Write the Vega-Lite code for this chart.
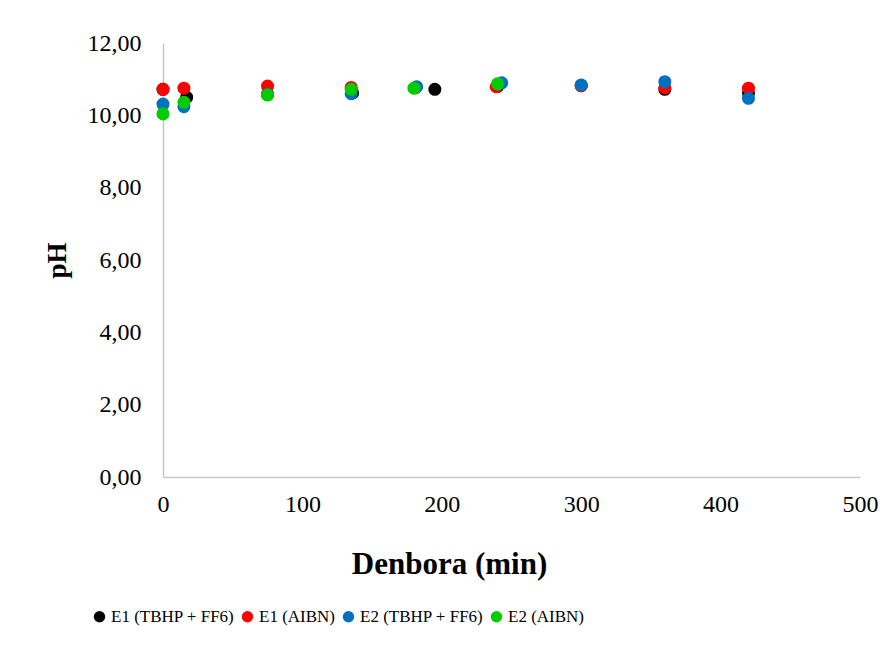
{
  "$schema": "https://vega.github.io/schema/vega-lite/v6.json",
  "autosize": "none",
  "width": 697,
  "height": 434,
  "padding": {"left": 163, "top": 43, "right": 36, "bottom": 172},
  "background": "white",
  "config": {
    "view": {"stroke": null},
    "font": "Liberation Serif"
  },
  "data": {
    "values": [
      {"t": 0, "pH": 10.72, "serie": "E1 (TBHP + FF6)"},
      {"t": 17, "pH": 10.5, "serie": "E1 (TBHP + FF6)"},
      {"t": 75, "pH": 10.58, "serie": "E1 (TBHP + FF6)"},
      {"t": 136, "pH": 10.62, "serie": "E1 (TBHP + FF6)"},
      {"t": 195, "pH": 10.72, "serie": "E1 (TBHP + FF6)"},
      {"t": 240, "pH": 10.8, "serie": "E1 (TBHP + FF6)"},
      {"t": 300, "pH": 10.82, "serie": "E1 (TBHP + FF6)"},
      {"t": 360, "pH": 10.72, "serie": "E1 (TBHP + FF6)"},
      {"t": 420, "pH": 10.62, "serie": "E1 (TBHP + FF6)"},
      {"t": 0, "pH": 10.72, "serie": "E1 (AIBN)"},
      {"t": 15, "pH": 10.75, "serie": "E1 (AIBN)"},
      {"t": 75, "pH": 10.81, "serie": "E1 (AIBN)"},
      {"t": 135, "pH": 10.77, "serie": "E1 (AIBN)"},
      {"t": 181, "pH": 10.76, "serie": "E1 (AIBN)"},
      {"t": 239, "pH": 10.79, "serie": "E1 (AIBN)"},
      {"t": 300, "pH": 10.82, "serie": "E1 (AIBN)"},
      {"t": 360, "pH": 10.76, "serie": "E1 (AIBN)"},
      {"t": 420, "pH": 10.75, "serie": "E1 (AIBN)"},
      {"t": 0, "pH": 10.31, "serie": "E2 (TBHP + FF6)"},
      {"t": 15, "pH": 10.24, "serie": "E2 (TBHP + FF6)"},
      {"t": 75, "pH": 10.58, "serie": "E2 (TBHP + FF6)"},
      {"t": 135, "pH": 10.6, "serie": "E2 (TBHP + FF6)"},
      {"t": 182, "pH": 10.79, "serie": "E2 (TBHP + FF6)"},
      {"t": 243, "pH": 10.9, "serie": "E2 (TBHP + FF6)"},
      {"t": 300, "pH": 10.84, "serie": "E2 (TBHP + FF6)"},
      {"t": 360, "pH": 10.93, "serie": "E2 (TBHP + FF6)"},
      {"t": 420, "pH": 10.47, "serie": "E2 (TBHP + FF6)"},
      {"t": 0, "pH": 10.04, "serie": "E2 (AIBN)"},
      {"t": 15, "pH": 10.36, "serie": "E2 (AIBN)"},
      {"t": 75, "pH": 10.56, "serie": "E2 (AIBN)"},
      {"t": 135, "pH": 10.72, "serie": "E2 (AIBN)"},
      {"t": 180, "pH": 10.75, "serie": "E2 (AIBN)"},
      {"t": 240, "pH": 10.87, "serie": "E2 (AIBN)"}
    ]
  },
  "mark": {"type": "point", "shape": "circle", "filled": true, "opacity": 1, "size": 170},
  "encoding": {
    "x": {
      "field": "t", "type": "quantitative",
      "scale": {"domain": [0, 500], "nice": false, "zero": false},
      "axis": {
        "values": [0, 100, 200, 300, 400, 500],
        "grid": false, "ticks": false, "labelFlush": false,
        "domainColor": "#C8C8C8", "domainWidth": 1.5,
        "labelFontSize": 24, "labelColor": "#000000", "labelPadding": 15,
        "labelFont": "Liberation Serif",
        "title": "Denbora (min)", "titleFontSize": 31, "titleFontWeight": "bold",
        "titleColor": "#000000", "titlePadding": 33, "titleFont": "Liberation Serif",
        "titleX": 286, "titleAnchor": "middle"
      }
    },
    "y": {
      "field": "pH", "type": "quantitative",
      "scale": {"domain": [0, 12], "nice": false},
      "axis": {
        "values": [0, 2, 4, 6, 8, 10, 12],
        "grid": false, "ticks": false, "labelFlush": false,
        "domainColor": "#C8C8C8", "domainWidth": 1.5,
        "labelExpr": "replace(format(datum.value, '.2f'), '.', ',')",
        "labelFontSize": 24, "labelColor": "#000000", "labelPadding": 22,
        "labelFont": "Liberation Serif",
        "title": "pH", "titleFontSize": 27, "titleFontWeight": "bold",
        "titleColor": "#000000", "titlePadding": 16, "titleFont": "Liberation Serif"
      }
    },
    "color": {
      "field": "serie", "type": "nominal",
      "scale": {
        "domain": ["E1 (TBHP + FF6)", "E1 (AIBN)", "E2 (TBHP + FF6)", "E2 (AIBN)"],
        "range": ["#000000", "#FF0000", "#0070C0", "#00CC00"]
      },
      "legend": {
        "orient": "none", "direction": "horizontal",
        "legendX": -72, "legendY": 565,
        "title": null,
        "symbolType": "circle", "symbolSize": 130, "symbolStrokeWidth": 0,
        "labelFontSize": 17, "labelColor": "#000000", "labelFont": "Liberation Serif",
        "labelOffset": 3, "columnPadding": 4, "labelLimit": 300
      }
    }
  }
}
